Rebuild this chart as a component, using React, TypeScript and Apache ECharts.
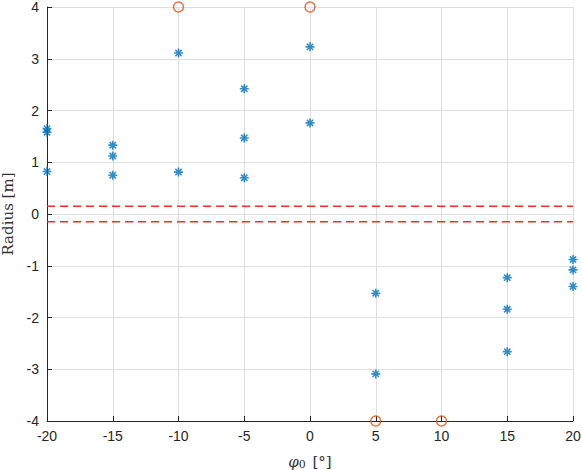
import { useRef, useEffect } from 'react'
import * as echarts from 'echarts'

const starX = [-20, -20, -20, -15, -15, -15, -10, -10, -5, -5, -5, 0, 0, 5, 5, 15, 15, 15, 20, 20, 20]
const starY = [1.65, 1.58, 0.82, 1.33, 1.12, 0.75, 3.11, 0.81, 2.42, 1.47, 0.7, 3.23, 1.76, -1.53, -3.09, -1.23, -1.84, -2.66, -0.88, -1.08, -1.4]

const circleX = [-10, 0, 5, 10]
const circleY = [4, 4, -4, -4]

const thresholdLevels = [0.15, -0.15]
const xRange = [-20, 20]

const asterisk = 'path://M5,0 L5,10 M0,5 L10,5 M1.5,1.5 L8.5,8.5 M1.5,8.5 L8.5,1.5'

export default function App() {
  const chartRef = useRef<HTMLDivElement>(null)

  useEffect(() => {
    if (!chartRef.current) return
    const chart = echarts.init(chartRef.current, undefined, { renderer: 'svg' })

    const tickLabel = { color: '#262626', fontSize: 14, fontFamily: 'Liberation Sans, Arial, sans-serif' }

    chart.setOption({
      animation: false,
      backgroundColor: '#fff',
      grid: { left: 47, right: 9, top: 7, bottom: 49, outerBoundsMode: 'none' },
      xAxis: {
        type: 'value',
        min: -20,
        max: 20,
        interval: 5,
        axisLine: { show: true, onZero: false, lineStyle: { color: '#262626', width: 1 } },
        axisTick: { show: true, inside: true, length: 5, lineStyle: { color: '#262626' } },
        axisLabel: { ...tickLabel, margin: 8 },
        splitLine: { show: true, lineStyle: { color: '#dfdfdf', width: 1 } },
        name: '{phi|φ}{sub|0}  {br|[°]}',
        nameLocation: 'middle',
        nameGap: 32,
        nameTextStyle: {
          rich: {
            phi: { fontFamily: 'DejaVu Serif', fontStyle: 'italic', fontSize: 15, color: '#333' },
            sub: { fontFamily: 'DejaVu Serif', fontSize: 11, color: '#333', verticalAlign: 'bottom', padding: [6, 0, 0, 0] },
            br: { fontFamily: 'DejaVu Serif', fontSize: 15, color: '#333' },
          },
        },
      },
      yAxis: {
        type: 'value',
        min: -4,
        max: 4,
        interval: 1,
        axisLine: { show: true, onZero: false, lineStyle: { color: '#262626', width: 1 } },
        axisTick: { show: true, inside: true, length: 5, lineStyle: { color: '#262626' } },
        axisLabel: { ...tickLabel, margin: 8 },
        splitLine: { show: true, lineStyle: { color: '#dfdfdf', width: 1 } },
        name: 'Radius [m]',
        nameLocation: 'middle',
        nameGap: 32,
        nameTextStyle: { fontFamily: 'DejaVu Serif', fontSize: 15, color: '#333' },
      },
      series: [
        ...thresholdLevels.map((lv) => ({
          type: 'line',
          data: xRange.map((x) => [x, lv]),
          symbol: 'none',
          lineStyle: { color: '#ff2a2a', width: 1.4, type: [8, 5] },
          silent: true,
        })),
        {
          type: 'scatter',
          data: starX.map((x, i) => [x, starY[i]]),
          symbol: asterisk,
          symbolSize: 9,
          itemStyle: { color: 'none', borderColor: '#0072BD', borderWidth: 1.6 },
        },
        {
          type: 'scatter',
          data: circleX.map((x, i) => [x, circleY[i]]),
          symbol: 'circle',
          symbolSize: 10,
          clip: false,
          itemStyle: { color: 'none', borderColor: '#D95319', borderWidth: 1.5 },
          z: 5,
        },
      ],
    })

    return () => chart.dispose()
  }, [])

  return (
    <div
      ref={chartRef}
      style={{ position: 'fixed', left: 0, top: 0, width: 582, height: 470 }}
    />
  )
}
